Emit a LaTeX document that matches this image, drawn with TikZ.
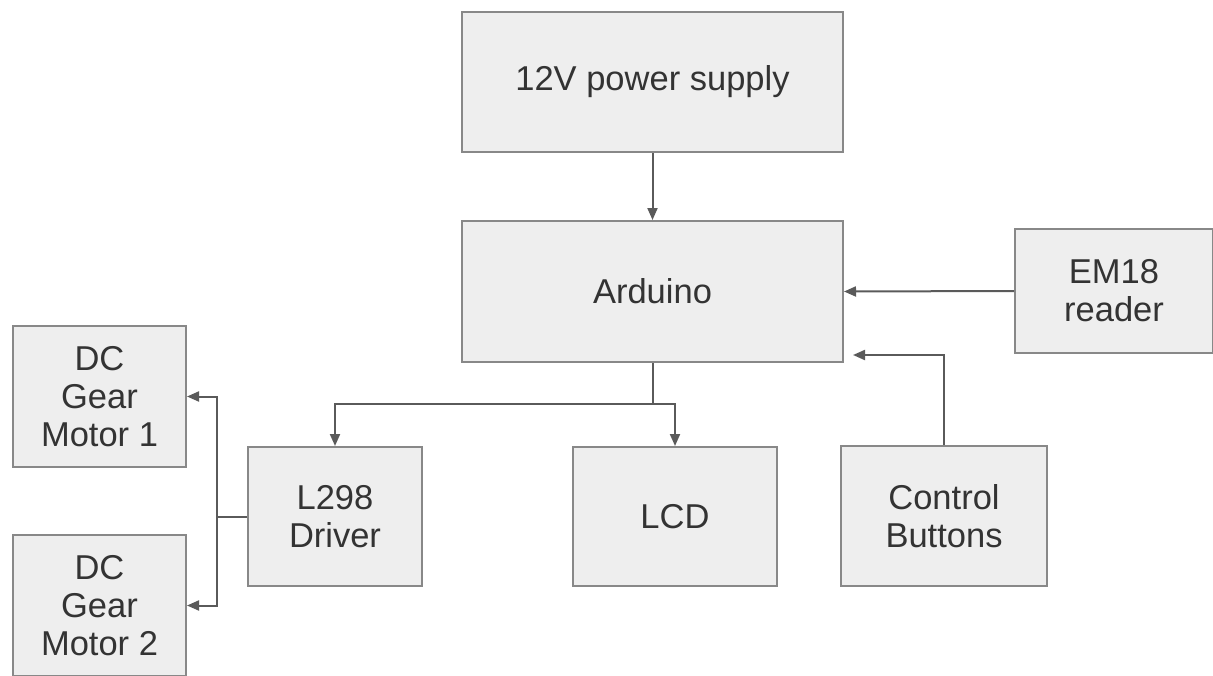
\documentclass[tikz,border=0pt]{standalone}
\usepackage{fontspec}
\setmainfont{Liberation Sans}
\usetikzlibrary{arrows.meta,calc}
\definecolor{boxfill}{HTML}{EEEEEE}
\definecolor{boxline}{HTML}{888888}
\definecolor{conn}{HTML}{5A5A5A}
\definecolor{txt}{HTML}{333333}
\begin{document}
\begin{tikzpicture}[x=1pt,y=-1pt,
  box/.style={draw=boxline,fill=boxfill,line width=2pt,anchor=north west,inner sep=0pt,
    align=center,text=txt,font=\fontsize{34.5}{38}\selectfont},
  conn/.style={draw=conn,line width=2pt},
  arr/.style={conn,-{Triangle[length=12pt,width=10pt]}}]
\useasboundingbox (0,0) rectangle (1213,675);
\clip (0,0) rectangle (1213,675);
\node[box,minimum width=381pt,minimum height=140pt] (ps) at (461,11) {12V power supply};
\node[box,minimum width=381pt,minimum height=141pt] (ard) at (461,220) {Arduino};
\node[box,minimum width=198pt,minimum height=124pt] (em) at (1014,228) {EM18\\reader};
\node[box,minimum width=173pt,minimum height=141pt] (m1) at (12,325) {DC\\Gear\\Motor 1};
\node[box,minimum width=173pt,minimum height=141pt] (m2) at (12,534) {DC\\Gear\\Motor 2};
\node[box,minimum width=174pt,minimum height=139pt] (l298) at (247,446) {L298\\Driver};
\node[box,minimum width=204pt,minimum height=139pt] (lcd) at (572,446) {LCD};
\node[box,minimum width=206pt,minimum height=140pt] (cb) at (840,445) {Control\\Buttons};
% power to arduino
\draw[arr] (ps.south) -- (ard.north);
% arduino to L298 and LCD
\draw[conn] (ard.south) -- ++(0,41) coordinate (j);
\draw[arr] (j) -| (l298.north);
\draw[arr] (j) -| (lcd.north);
% EM18 to arduino
\draw[arr] (em.west) -- (ard.east);
% control buttons to arduino
\coordinate (cbend) at ($(ard.south east)+(9,-8)$);
\draw[arr] (cb.north) |- (cbend);
% L298 to motors
\draw[conn] (l298.west) -- ++(-30,0) coordinate (k);
\draw[arr] (k) |- (m1.east);
\draw[arr] (k) |- (m2.east);
\end{tikzpicture}
\end{document}
